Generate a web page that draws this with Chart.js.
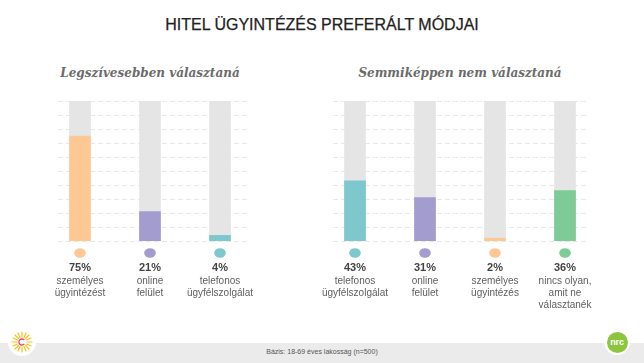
<!DOCTYPE html>
<html lang="hu">
<head>
<meta charset="utf-8">
<title>Hitel ügyintézés preferált módjai</title>
<script src="https://cdn.jsdelivr.net/npm/chart.js@4.4.1/dist/chart.umd.min.js"></script>
<style>
    html, body { margin: 0; padding: 0; background: #fff; }
    body { width: 644px; height: 363px; position: relative; overflow: hidden; font-family: "Liberation Sans", Arial, sans-serif; }
    .title { position: absolute; left: 0; width: 644px; top: 17px; text-align: center; font-size: 16px; line-height: 16px; color: #222; -webkit-text-stroke: 0.25px #222; }
    .sub { position: absolute; top: 67px; text-align: center; font-family: "DejaVu Serif", serif; font-style: italic; font-weight: bold; font-size: 12px; line-height: 12px; color: #6b6b6b; }
    canvas { position: absolute; }
    .footer { position: absolute; left: 0; top: 343px; width: 644px; height: 20px; background: #ebebeb; }
    .footer span { position: absolute; left: 0; width: 644px; top: 5px; text-align: center; font-size: 7px; line-height: 8px; color: #555; }
    .logo { position: absolute; border-radius: 50%; background: #fff; }
    .nrc { position: absolute; left: 2.5px; top: 2.5px; width: 21px; height: 21px; border-radius: 50%; background: #8cc63f; color: #fff; font-size: 9px; line-height: 20px; text-align: center; font-weight: bold; letter-spacing: -0.2px; }
</style>
</head>
<body>

<div class="title">HITEL ÜGYINTÉZÉS PREFERÁLT MÓDJAI</div>
<div class="sub" style="left: 50px; width: 200px;">Legszívesebben választaná</div>
<div class="sub" style="left: 340px; width: 240px;">Semmiképpen nem választaná</div>

<canvas id="chart-left" width="210" height="220" style="left: 45px; top: 95px;"></canvas>
<canvas id="chart-right" width="280" height="220" style="left: 320px; top: 95px;"></canvas>

<div class="footer"><span>Bázis: 18-69 éves lakosság (n=500)</span></div>

<div class="logo" style="left: 8px; top: 328px; width: 28px; height: 28px;">
    <svg width="28" height="28" viewBox="0 0 28 28">
        <g stroke="#f6c21c" stroke-width="1.2" stroke-linecap="round">
            <line x1="14" y1="4" x2="14" y2="9"/><line x1="14" y1="19" x2="14" y2="24"/>
            <line x1="4" y1="14" x2="9" y2="14"/><line x1="19" y1="14" x2="24" y2="14"/>
            <line x1="7" y1="7" x2="10.5" y2="10.5"/><line x1="17.5" y1="17.5" x2="21" y2="21"/>
            <line x1="21" y1="7" x2="17.5" y2="10.5"/><line x1="10.5" y1="17.5" x2="7" y2="21"/>
            <line x1="10" y1="5" x2="12" y2="9.5"/><line x1="18" y1="5" x2="16" y2="9.5"/>
            <line x1="10" y1="23" x2="12" y2="18.5"/><line x1="18" y1="23" x2="16" y2="18.5"/>
            <line x1="5" y1="10" x2="9.5" y2="12"/><line x1="5" y1="18" x2="9.5" y2="16"/>
            <line x1="23" y1="10" x2="18.5" y2="12"/><line x1="23" y1="18" x2="18.5" y2="16"/>
        </g>
        <path d="M16.3 12.2 A3 3 0 1 0 16.3 15.8" fill="none" stroke="#e8426a" stroke-width="1.3"/>
    </svg>
</div>
<div class="logo" style="left: 604px; top: 329px; width: 26px; height: 26px;">
    <div class="nrc">nrc</div>
</div>

<script>
    // left panel: legszívesebben választaná
    var leftLabels = [
        ['személyes', 'ügyintézést'],
        ['online', 'felület'],
        ['telefonos', 'ügyfélszolgálat']
    ];
    var leftValues = [75, 21, 4];
    var leftColors = ['#fec895', '#a39ccf', '#7ec7cd'];

    // right panel: semmiképpen nem választaná
    var rightLabels = [
        ['telefonos', 'ügyfélszolgálat'],
        ['online', 'felület'],
        ['személyes', 'ügyintézés'],
        ['nincs olyan,', 'amit ne', 'választanék']
    ];
    var rightValues = [43, 31, 2, 36];
    var rightColors = ['#7ec7cd', '#a39ccf', '#fec895', '#7ecb97'];

    // the grey track behind every bar
    var trackMax = 100;
    var gridStep = 10;

    /**
     * dashed horizontal guides, drawn under the bars
     */
    var gridPlugin = {
        id: 'dashGrid',
        beforeDatasetsDraw: function (chart, args, opts) {
            var ctx = chart.ctx, area = chart.chartArea, y = chart.scales.y, v, py;

            ctx.save();
            ctx.strokeStyle = '#e8e8e8';
            ctx.lineWidth = 1;
            ctx.setLineDash([5, 3]);

            for (v = 0; v <= trackMax; v += gridStep) {
                py = Math.round(y.getPixelForValue(v)) + 0.5;
                ctx.beginPath();
                ctx.moveTo(area.left + opts.insetLeft, py);
                ctx.lineTo(area.right - opts.insetRight, py);
                ctx.stroke();
            }
            ctx.restore();
        }
    };

    /**
     * dot, percentage and category name under each bar
     */
    var labelPlugin = {
        id: 'barLabels',
        afterDatasetsDraw: function (chart, args, opts) {
            var ctx = chart.ctx,
                bottom = chart.chartArea.bottom,
                meta = chart.getDatasetMeta(0),
                values = chart.data.datasets[0].data,
                colors = chart.data.datasets[0].backgroundColor;

            ctx.save();
            ctx.textAlign = 'center';
            ctx.textBaseline = 'middle';

            meta.data.forEach(function (bar, i) {
                var x = bar.x;

                ctx.fillStyle = colors[i];
                ctx.beginPath();
                ctx.ellipse(x, bottom + 12, 5.8, 4.8, 0, 0, Math.PI * 2);
                ctx.fill();

                ctx.fillStyle = '#444';
                ctx.font = 'bold 11px "Liberation Sans", Arial, sans-serif';
                ctx.fillText(values[i] + '%', x, bottom + 27);

                ctx.fillStyle = '#5e5e5e';
                ctx.font = '10px "Liberation Sans", Arial, sans-serif';
                opts.lines[i].forEach(function (line, j) {
                    ctx.fillText(line, x, bottom + 40 + j * 12);
                });
            });
            ctx.restore();
        }
    };

    function makeChart(id, labels, values, colors, insets) {
        var track = values.map(function () { return trackMax; });

        return new Chart(document.getElementById(id), {
            type: 'bar',
            data: {
                labels: labels.map(function (l) { return l.join(' '); }),
                datasets: [
                    { data: values, backgroundColor: colors, barThickness: 21, grouped: false, order: 0 },
                    { data: track, backgroundColor: '#e5e5e5', barThickness: 21, grouped: false, order: 1 }
                ]
            },
            options: {
                responsive: false,
                animation: false,
                events: [],
                layout: { padding: { top: 6, bottom: 74, left: 0, right: 0 } },
                plugins: {
                    legend: { display: false },
                    tooltip: { enabled: false },
                    dashGrid: { insetLeft: insets[0], insetRight: insets[1] },
                    barLabels: { lines: labels }
                },
                scales: {
                    x: { display: false },
                    y: { display: false, min: 0, max: trackMax }
                }
            },
            plugins: [gridPlugin, labelPlugin]
        });
    }

    makeChart('chart-left', leftLabels, leftValues, leftColors, [13, 8]);
    makeChart('chart-right', rightLabels, rightValues, rightColors, [13, 12]);
</script>
</body>
</html>
